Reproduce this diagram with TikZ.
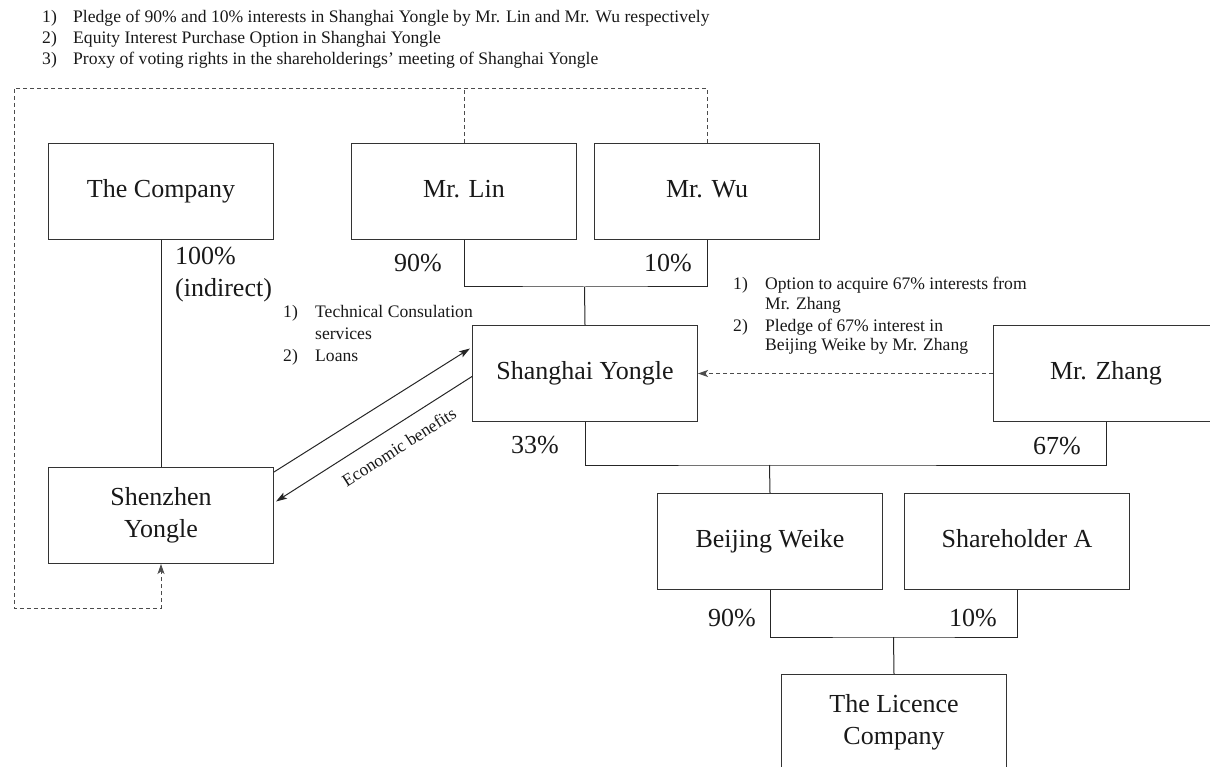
\documentclass[tikz,border=0pt]{standalone}
\usepackage{fontspec}
\setmainfont{Liberation Serif}
\usetikzlibrary{arrows.meta,calc}
\newcommand\BigTxt{\fontsize{26}{32}\selectfont}
\newcommand\SmTxt{\fontsize{17.6}{21}\selectfont}
\begin{document}
\begin{tikzpicture}[x=1pt,y=-1pt,
  box/.style={draw=black!80, line width=1pt, minimum width=225pt, minimum height=96pt,
    inner sep=0pt, anchor=north west, font=\BigTxt, align=center, text=black!90},
  pct/.style={font=\BigTxt, inner sep=0pt, text=black!90},
  sm/.style={font=\SmTxt, inner sep=0pt, anchor=base west, text=black!90},
  ln/.style={draw=black!85, line width=1pt},
  dsh/.style={draw=black!70, line width=0.9pt, dash pattern=on 4pt off 3pt},
  arr/.style={ln, -{Stealth[length=11pt,width=7pt,inset=2.5pt]}},
  darr/.style={dsh, -{Stealth[length=10pt,width=7pt,inset=2.5pt]}}]
\useasboundingbox (0,0) rectangle (1210,767);
\clip (0,0) rectangle (1210,767);

% top list
\node[sm] (t1n) at (42,23) {1)};
\node[sm] (t1) at (73,23) {Pledge of 90\% and 10\% interests in Shanghai Yongle by Mr. Lin and Mr. Wu respectively};
\node[sm] (t2n) at (42,44) {2)};
\node[sm] (t2) at (73,44) {Equity Interest Purchase Option in Shanghai Yongle};
\node[sm] (t3n) at (42,65) {3)};
\node[sm] (t3) at (73,65) {Proxy of voting rights in the shareholderings’ meeting of Shanghai Yongle};

% boxes
\node[box] (company) at (48,143) {\strut The Company};
\node[box] (lin) at (351,143) {\strut Mr. Lin};
\node[box] (wu) at (594,143) {\strut Mr. Wu};
\node[box] (sy) at (472,325) {\strut Shanghai Yongle};
\node[box] (zhang) at (993,325) {\strut Mr. Zhang};
\node[box] (sz) at (48,467) {Shenzhen\\Yongle};
\node[box] (bw) at (657,493) {\strut Beijing Weike};
\node[box] (sha) at (904,493) {\strut Shareholder A};
\node[box] (lic) at (781,674) {The Licence\\Company};

% ownership lines
\coordinate (jLW) at (584.5,287);
\draw[ln] (lin.south) |- (jLW) -| (wu.south);
\draw[ln] (jLW) -- (sy.north);
\coordinate (jSZ) at (769.5,465);
\draw[ln] (sy.south) |- (jSZ) -| (zhang.south);
\draw[ln] (jSZ) -- (bw.north);
\coordinate (jBS) at (893.5,637);
\draw[ln] (bw.south) |- (jBS) -| (sha.south);
\draw[ln] (jBS) -- (lic.north);
\draw[ln] (company.south) -- (sz.north);

% percentages
\node[pct] (p100) at (175,275) [anchor=west, align=left] {100\%\\(indirect)};
\node[pct] (p90a) at (418,263) {90\%};
\node[pct] (p10a) at (668,263) {10\%};
\node[pct] (p33) at (535,445) {33\%};
\node[pct] (p67) at (1057,446) {67\%};
\node[pct] (p90b) at (732,618) {90\%};
\node[pct] (p10b) at (973,618) {10\%};

% dashed control loop
\coordinate (dTL) at (14,88);
\coordinate (dBL) at (14,608);
\draw[dsh] (lin.north) -- (lin.north |- dTL);
\draw[darr] (wu.north) |- (dTL) -- (dBL) -| (sz.south);

% Zhang arrangements
\draw[darr] (zhang.west) -- (sy.east);
\node[sm] (z1n) at (733,290) {1)};
\node[sm] (z1) at (765,290) {Option to acquire 67\% interests from};
\node[sm] (z1b) at (765,309) {Mr. Zhang};
\node[sm] (z2n) at (733,331) {2)};
\node[sm] (z2) at (765,331) {Pledge of 67\% interest in};
\node[sm] (z2b) at (765,350) {Beijing Weike by Mr. Zhang};

% services and benefits
\draw[arr] ([yshift=-5pt]sz.north east) -- ([xshift=-2pt,yshift=25pt]sy.west);
\draw[arr] ([yshift=-3pt]sy.west) -- ([xshift=2pt,yshift=14pt]sz.east);
\node[sm] (s1n) at (283,318) {1)};
\node[sm] (s1) at (315,318) {Technical Consulation};
\node[sm] (s1b) at (315,339) {services};
\node[sm] (s2n) at (283,361) {2)};
\node[sm] (s2) at (315,361) {Loans};
\node[font=\SmTxt, inner sep=0pt, rotate=32.6, text=black!90] (eb) at (399,447) {Economic benefits};
\end{tikzpicture}
\end{document}
